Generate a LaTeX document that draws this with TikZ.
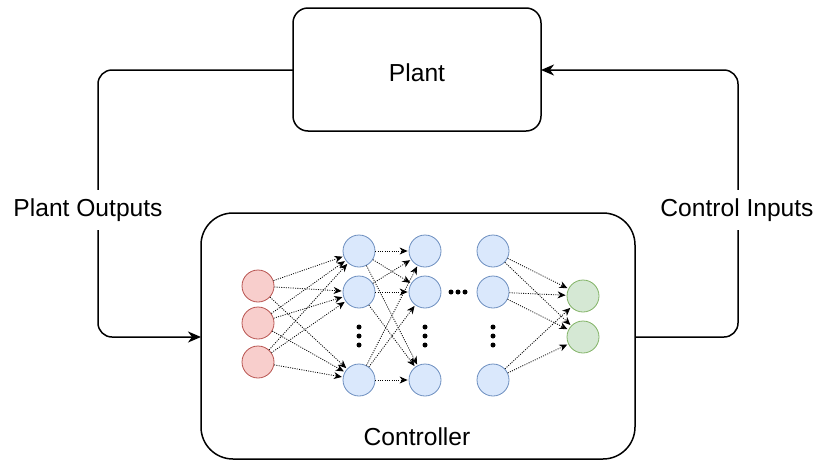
\documentclass[tikz,border=0pt]{standalone}
\usepackage{fontspec}
\setmainfont{Liberation Sans}
\usetikzlibrary{arrows.meta,calc}
\definecolor{rfill}{HTML}{F8CECC}\definecolor{rline}{HTML}{B85450}
\definecolor{bfill}{HTML}{DAE8FC}\definecolor{bline}{HTML}{6C8EBF}
\definecolor{gfill}{HTML}{D5E8D4}\definecolor{gline}{HTML}{82B366}
\tikzset{
  txt/.style={font=\fontsize{24.6}{29}\selectfont},
  neuron/.style={circle, draw, line width=0.8pt, minimum size=32pt, inner sep=0pt},
  rn/.style={neuron, fill=rfill, draw=rline},
  bn/.style={neuron, fill=bfill, draw=bline},
  gn/.style={neuron, fill=gfill, draw=gline},
  loop/.style={line width=1.5pt, rounded corners=14pt, -{Stealth[length=13pt,width=11pt,inset=4pt]}},
  lbl/.style={txt, fill=white, inner xsep=2pt, inner ysep=9pt},
  syn/.style={line width=0.8pt, dash pattern=on 1pt off 1.3pt, black, -{Stealth[length=8pt,width=7pt,inset=2.5pt]}, shorten >=1pt},
  dot/.style={circle, fill=black, inner sep=0pt, minimum size=5pt}
}
\begin{document}
\begin{tikzpicture}[x=1pt,y=-1pt]
\useasboundingbox (0,0) rectangle (817,461);
% boxes
\draw[line width=1.5pt, rounded corners=15pt] (293,8) rectangle (541,131);
\node[txt] (plant) at (417,73) {Plant};
\coordinate (plantW) at (293,70);
\coordinate (plantE) at (541,70);
\draw[line width=1.5pt, rounded corners=32pt] (201,213) rectangle (635,459);
\node[txt] (ctrl) at (417,437) {Controller};
\coordinate (ctrlW) at (201,337);
\coordinate (ctrlE) at (635,337);
% loops
\coordinate (lc) at (98,337);
\coordinate (rc) at (738,70);
\draw[loop] (plantW) -| (lc) -- (ctrlW);
\draw[loop] (ctrlE) -| (rc) -- (plantE);
\node[lbl] (po) at (88,210) {Plant Outputs};
\node[lbl] (ci) at (737,210) {Control Inputs};
% neurons
\node[rn] (r1) at (258,286) {};
\node[rn] (r2) at (258,323) {};
\node[rn] (r3) at (258,362) {};
\foreach \n/\x in {a/359,b/425,c/493}{
  \node[bn] (\n1) at (\x,251) {};
  \node[bn] (\n2) at (\x,292) {};
  \node[bn] (\n3) at (\x,380) {};
  \node[dot] (\n d1) at (\x,327) {};
  \node[dot] (\n d2) at (\x,336) {};
  \node[dot] (\n d3) at (\x,345) {};
}
\node[dot] (h1) at (451,292) {};
\node[dot] (h2) at (458,292) {};
\node[dot] (h3) at (465,292) {};
\node[gn] (g1) at (583,296) {};
\node[gn] (g2) at (583,337) {};
% synapses
\foreach \i in {1,2,3}{\foreach \j in {1,2,3}{
  \draw[syn] (r\i) -- (a\j);
  \draw[syn] (a\i) -- (b\j);
}}
\foreach \i in {1,2,3}{\foreach \j in {1,2}{
  \draw[syn] (c\i) -- (g\j);
}}
\end{tikzpicture}
\end{document}
